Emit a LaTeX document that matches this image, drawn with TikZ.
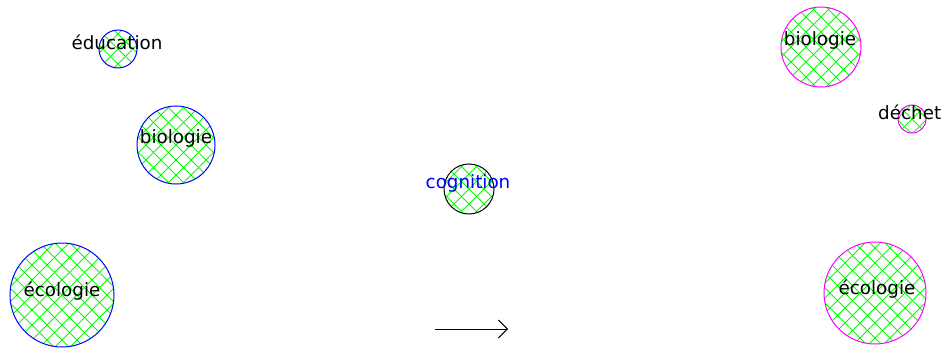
\documentclass[tikz,border=0pt]{standalone}
\usepackage{fontspec}
\setmainfont{DejaVu Sans}
\usetikzlibrary{arrows.meta}
\definecolor{hgreen}{RGB}{0,255,0}
\definecolor{hblue}{RGB}{0,0,255}
\definecolor{hmag}{RGB}{255,0,255}
\tikzset{
  hatch/.style={draw=hgreen, line width=1pt},
  ring/.style={circle, inner sep=0pt, line width=1pt},
  lbl/.style={inner sep=0pt, font=\fontsize{18.3}{20}\selectfont},
}
\newcommand\hatchdisk[2]{%
  \begin{scope}[shift={(#1.center)}]
    \clip (0,0) circle (#2);
    \foreach \k in {-7,...,7} {
      \draw[hatch] (\k*15-80,-80) -- ++(160,160);
      \draw[hatch] (\k*15-80,80) -- ++(160,-160);
    }
  \end{scope}}
\begin{document}
\begin{tikzpicture}[x=1pt,y=1pt]
\useasboundingbox[fill=white] (0,0) rectangle (944,-350);
% circles
\coordinate (cEdu) at (118,-49);
\coordinate (cBioL) at (176,-145);
\coordinate (cEcoL) at (62,-295);
\coordinate (cCog) at (469,-189);
\coordinate (cBioR) at (821,-47);
\coordinate (cDec) at (912,-119);
\coordinate (cEcoR) at (875,-293);
\hatchdisk{cEdu}{19}
\hatchdisk{cBioL}{39}
\hatchdisk{cEcoL}{52}
\hatchdisk{cCog}{25}
\hatchdisk{cBioR}{40}
\hatchdisk{cDec}{14}
\hatchdisk{cEcoR}{51}
\node[ring, draw=hblue, minimum size=38pt] (edu) at (cEdu) {};
\node[ring, draw=hblue, minimum size=78pt] (bioL) at (cBioL) {};
\node[ring, draw=hblue, minimum size=104pt] (ecoL) at (cEcoL) {};
\node[ring, draw=black, minimum size=50pt] (cog) at (cCog) {};
\node[ring, draw=hmag, minimum size=80pt] (bioR) at (cBioR) {};
\node[ring, draw=hmag, minimum size=28pt] (dec) at (cDec) {};
\node[ring, draw=hmag, minimum size=102pt] (ecoR) at (cEcoR) {};
% labels
\node[lbl] (tEdu) at (117,-42) {éducation};
\node[lbl] (tBioL) at (176,-138) {biologie};
\node[lbl] (tEcoL) at (62,-291) {écologie};
\node[lbl, text=hblue] (tCog) at (468,-183) {cognition};
\node[lbl] (tBioR) at (820,-40) {biologie};
\node[lbl, anchor=west] (tDec) at (878,-112) {déchet};
\node[lbl] (tEcoR) at (877,-289) {écologie};
% arrow
\coordinate (aS) at (435,-329);
\coordinate (aE) at (508,-329);
\draw[line width=1pt, -{Straight Barb[length=9pt,width=18pt,line width=1pt]}] (aS) -- (aE);
\end{tikzpicture}
\end{document}
